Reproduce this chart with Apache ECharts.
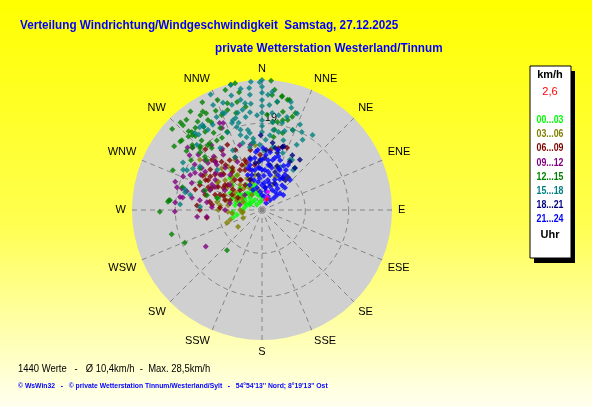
<!DOCTYPE html>
<html>
<head>
<meta charset="utf-8">
<title>Windrichtung/Windgeschwindigkeit</title>
<script src="https://cdn.jsdelivr.net/npm/echarts@6.0.0/dist/echarts.min.js"></script>
<style>
html, body { margin: 0; padding: 0; }
#chart { width: 592px; height: 407px; }
</style>
</head>
<body>
<div id="chart"></div>
<script>
// Punkte je Zeitraum als [km/h, Richtung in Grad]
const h00_03 = [[2.7,325],[3.7,315],[4.3,300],[4.8,320],[4.9,333],[5.5,307],[5.1,288],[3.4,345],[1.8,346],[1.6,315],
  [2.9,293],[3.8,280],[6.0,280],[7.9,298],[9.9,315],[9.4,324],[6.5,256],[4.2,270],[10.0,285],[6.4,329],[6.8,315],
  [2.2,0],[5.7,344],[11.0,323],[2.8,309],[3.6,290],[4.7,304],[5.9,297],[6.0,287],[4.4,323],[4.2,342],[3.1,352],
  [6.4,266],[5.6,259],[3.2,300],[5.0,315],[4.0,328],[6.2,305],[7.0,292],[5.2,336],[8.5,310]];
const h03_06 = [[15.4,318],[12.7,316],[9.0,313],[7.1,304],[10.0,280],[7.5,278],[4.8,270],[8.8,292],[4.5,293],[4.0,326],
  [7.7,335],[9.4,325],[7.8,349],[10.5,339],[9.1,302],[11.6,302],[14.7,302],[9.6,270],[6.6,264],[8.2,250],[6.4,235],
  [7.3,253],[4.5,247],[4.4,262],[9.2,276],[11.1,297],[17.5,309],[11.4,303],[7.5,267],[4.2,264],[5.9,292],[14.3,354],
  [10.0,19],[7.8,22],[5.9,22],[5.5,331],[7.3,319],[10.8,324],[10.4,309],[4.5,349],[12.2,291],[12.5,332],
  [8.5,308],[6.8,297],[9.8,318],[11.8,313],[6.2,320],[5.2,300],[8.0,285],[12.0,322],[6.5,340]];
const h06_09 = [[14.0,298],[12.7,321],[6.5,312],[10.8,288],[13.4,349],[12.2,262],[13.3,8],[14.7,22],[14.7,292],[15.3,287],
  [14.4,308],[12.0,310],[13.0,327],[8.9,318],[9.5,337],[8.4,285],[7.4,297],[7.1,338],[10.0,351],[15.5,315],[18.2,317],
  [10.0,331],[9.3,306],[10.9,298],[14.4,336],[15.8,326],[12.1,358],[14.0,15],[14.3,274],[6.6,326],[11.6,279],[14.7,316],
  [10.6,322],[10.8,336],[12.9,333],[16.2,332],[13.5,303],[11.5,313],[12.8,293],[9.8,300],[8.0,325],[11.0,342],
  [15.0,300],[13.8,320],[9.0,290],[7.8,305],[12.9,285],[11.0,276],[9.8,290],[9.8,304],[7.3,287],[5.9,297],[12.9,307],
  [13.5,299],[8.2,324],[11.3,325],[11.6,341],[9.2,273],[13.6,270],[12.0,294]];
const h09_12 = [[18.5,311],[16.8,299],[18.8,293],[20.0,288],[19.3,285],[16.5,291],[18.2,279],[19.1,269],[14.3,264],[14.7,237],
  [8.1,270],[7.2,282],[14.0,315],[16.1,305],[16.6,311],[14.8,325],[11.9,333],[20.5,312],[19.9,307],[18.2,285],[19.1,275],
  [12.2,263],[20.0,334],[21.2,334],[21.3,310],[20.9,336],[15.0,341],[14.5,350],[12.2,278],[11.0,273],[12.2,303],[9.2,298],
  [12.2,291],[13.8,279],[10.4,318],[5.0,311],[5.0,283],[9.2,343],[17.5,296],[15.5,300],[17.0,284],[13.5,288],
  [15.8,318],[18.0,322],[16.0,327],[13.0,309],[11.5,296],[17.8,304],[15.0,304],[15.7,311],[14.7,316],[11.7,311],
  [17.6,279],[15.6,280],[12.3,297],[12.3,319],[8.9,308]];
const h12_15 = [[28.3,346],[28.4,348],[26.3,349],[24.6,342],[24.3,347],[26.7,324],[23.2,341],[22.9,351],[28.4,4],[25.3,5],
  [25.2,10],[24.9,14],[23.9,8],[22.5,19],[20.2,13],[19.5,7],[25.2,329],[23.0,329],[22.6,337],[20.2,333],[23.3,311],
  [24.0,324],[22.3,325],[20.0,328],[18.1,331],[22.4,317],[20.2,319],[18.6,322],[26.2,317],[23.4,310],[22.8,315],[23.2,321],
  [24.5,330],[22.2,330],[18.2,327],[18.8,336],[20.5,312],[18.5,313],[16.3,312],[17.5,321],[18.1,286],[22.4,269],[20.7,275],
  [20.5,16],[18.8,21],[24.8,13],[25.4,10],[19.6,10],[17.8,9],[17.5,15],[16.2,9],[20.9,3],[20.5,255],[18.4,247],[11.7,221],
  [20.5,276],[14.9,294],[12.5,285],[10.2,285],[21.4,294],[23.6,317],[21.2,324],[18.5,320],[20.9,313],[13.2,289],
  [25.8,320],[27.0,331],[26.0,338],[24.0,335],[21.8,318],[19.5,316],[24.8,327],[27.5,343],[22.0,345],[21.0,308],
  [19.0,305],[23.8,306],[26.5,312],[26.5,6],[22.0,12],[21.5,18],[25.4,317],[23.0,318],[19.2,315],[17.1,313],
  [16.4,304],[20.3,276]];
const h15_18 = [[28.5,0],[28.2,355],[28.0,359],[27.0,0],[25.7,0],[24.1,0],[22.8,0],[21.3,0],[19.7,0],[18.4,0],[17.1,0],
  [26.9,354],[25.4,354],[23.4,354],[21.6,353],[24.6,349],[22.4,349],[20.7,350],[22.0,346],[20.7,342],[20.2,341],[27.7,336],
  [22.8,339],[22.7,334],[21.6,330],[21.2,326],[22.3,325],[21.6,320],[20.2,315],[18.2,345],[16.3,348],[15.0,353],[14.0,349],
  [25.3,3],[23.1,4],[21.4,6],[19.4,7],[17.7,8],[15.4,3],[21.1,10],[19.6,13],[21.1,15],[24.5,15],[23.3,16],[17.5,12],
  [16.0,17],[18.8,21],[19.2,27],[17.8,30],[16.2,28],[14.3,358],[19.8,34],[12.8,31],[10.2,23],[28.3,346],[25.4,335],
  [22.8,325],[22.4,319],[20.2,301],[18.6,298],[16.6,305],[17.3,283],[18.0,274],[13.2,312],[13.6,273],[12.6,29],[11.7,38],
  [17.8,350],[16.1,282],[18.6,336],[19.8,345],[23.7,351],[20.8,357],[26.0,345],[24.0,344],[23.0,338],[25.0,340],
  [27.0,350],[26.0,5],[24.0,8],[22.5,20],[20.5,24],[18.0,16],[16.5,6],[15.8,353],[13.0,2],[19.4,297],[17.5,285],
  [17.7,301],[22.7,323],[16.4,326],[14.6,334],[13.0,333],[21.0,344],[19.0,343],[17.1,344],[15.3,344],[17.1,351],
  [14.9,352],[14.0,10],[13.3,20],[11.1,38]];
const h18_21 = [[9.2,38],[8.3,38],[13.0,15],[14.5,18],[13.9,12],[14.8,19],[16.4,359],[11.7,38],[13.8,37],[13.7,29],
  [11.0,358],[10.4,352],[11.4,3],[10.0,10],[8.8,19],[7.7,354],[11.7,347],[13.2,4],[10.2,19],[14.9,9],[10.5,356],
  [6.5,25],[5.0,8],[7.2,340],[12.2,30],[14.5,18],[8.4,33]];
const h21_24 = [[11.0,0],[11.0,7],[11.8,14],[11.5,352],[10.2,345],[9.3,355],[8.8,4],[9.5,13],[9.6,24],[9.2,33],[8.0,344],
  [7.0,356],[6.7,11],[7.2,23],[7.0,39],[6.1,334],[5.0,347],[4.9,8],[4.9,27],[5.4,47],[3.3,0],[3.3,23],[3.7,45],[13.2,356],
  [12.8,8],[11.6,20],[11.4,30],[9.0,43],[5.5,0],[8.4,25],[8.9,350],[7.9,13],[8.8,0],[7.0,46],[4.6,45],[1.8,30],[2.8,39],
  [8.3,338],[10.0,8],[6.3,29],[9.0,346],[6.2,352],[7.5,3],[5.5,18],[8.3,32],[10.2,31],[12.1,4],[4.0,354],[6.8,345],
  [11.2,12],[5.7,55],[9.8,22],[10.8,26],[7.8,30],[6.0,5],[4.2,12],[8.5,9],[12.3,17],[9.2,357],[5.8,36],[3.0,10],
  [11.3,347],[12.8,354],[13.6,1],[13.6,15],[4.8,336],[9.7,342],[4.9,36],[6.1,15]];
const letzte = [[3.1,21],[2.3,17],[4.2,18]];
const aktuell = [[2.6,25]];

const zeitraeume = ['00...03', '03...06', '06...09', '09...12', '12...15', '15...18', '18...21', '21...24'];
const farben = ['#00ff00', '#808000', '#800000', '#800080', '#008000', '#008080', '#000080', '#0000ff'];
const punkte = [h00_03, h03_06, h06_09, h09_12, h12_15, h15_18, h18_21, h21_24];
const richtungen = ['N', 'NNE', 'NE', 'ENE', 'E', 'ESE', 'SE', 'SSE', 'S', 'SSW', 'SW', 'WSW', 'W', 'WNW', 'NW', 'NNW'];
const speedMax = 28.5;
const ringStep = 9.5;

const font = "'Liberation Sans', Arial, sans-serif";

let mychart = echarts.init(document.getElementById('chart'));

let series = punkte.map((d, i) => ({
    type: 'scatter',
    coordinateSystem: 'polar',
    name: zeitraeume[i],
    data: d,
    symbol: 'diamond',
    symbolSize: 6,
    itemStyle: { color: farben[i] },
    silent: true
}));
series.push({ type: 'scatter', coordinateSystem: 'polar', data: letzte, symbol: 'diamond', symbolSize: 5, itemStyle: { color: '#ff00ff' }, silent: true });
series.push({ type: 'scatter', coordinateSystem: 'polar', data: aktuell, symbol: 'diamond', symbolSize: 5, itemStyle: { color: '#ff0000' }, silent: true });

function txt(x, y, text, color, fnt, sx, align) {
    return {
        type: 'text', x: x, y: y, scaleX: sx || 1,
        style: { text: text, fill: color, font: fnt, textAlign: align || 'left', textVerticalAlign: 'middle' }
    };
}

let legendTexts = zeitraeume.map((t, i) => txt(550, 120 + i * 14.2, t, farben[i], 'bold 11px ' + font, 0.8, 'center'));

let option = {
    animation: false,
    backgroundColor: new echarts.graphic.LinearGradient(0, 0, 0, 1, [
        { offset: 0, color: '#ffff00' },
        { offset: 0.55, color: '#ffff50' },
        { offset: 1, color: '#fffff0' }
    ]),
    polar: { center: [262, 210], radius: 130 },
    angleAxis: {
        type: 'value', min: 0, max: 360, interval: 22.5,
        startAngle: 90, clockwise: true,
        axisLine: { show: false },
        axisTick: { show: false },
        axisLabel: {
            margin: 6, color: '#000', fontSize: 11, fontFamily: font,
            formatter: v => richtungen[Math.round(v / 22.5) % 16]
        },
        splitLine: { show: true, lineStyle: { color: '#858585', type: [5, 4], width: 1 } },
        splitArea: { show: false }
    },
    radiusAxis: {
        min: 0, max: speedMax, interval: ringStep,
        axisLine: { show: false },
        axisTick: { show: false },
        axisLabel: {
            color: '#000', fontSize: 11, fontFamily: font, margin: -15, verticalAlign: 'bottom',
            formatter: v => (v === 19 ? '19' : '')
        },
        splitLine: { show: true, lineStyle: { color: ['#858585', '#858585', '#858585', 'rgba(0,0,0,0)'], type: [5, 4], width: 1 } }
    },
    series: series,
    graphic: [
        { type: 'circle', z: -100, shape: { cx: 262, cy: 210, r: 130 }, style: { fill: '#d0d0d0' } },
        txt(20, 25, 'Verteilung Windrichtung/Windgeschwindigkeit  Samstag, 27.12.2025', '#0000ff', 'bold 13px ' + font, 0.9),
        txt(215, 48, 'private Wetterstation Westerland/Tinnum', '#0000ff', 'bold 13px ' + font, 0.9),
        { type: 'rect', shape: { x: 534, y: 71, width: 41, height: 192 }, style: { fill: '#000' } },
        { type: 'rect', shape: { x: 530, y: 66, width: 41, height: 192 }, style: { fill: '#fff', stroke: '#000', lineWidth: 1 } },
        txt(550, 75, 'km/h', '#000', 'bold 11px ' + font, 1, 'center'),
        txt(550, 92, '2,6', '#ff0000', '11px ' + font, 1, 'center'),
        ...legendTexts,
        txt(550, 235, 'Uhr', '#000', 'bold 11px ' + font, 1, 'center'),
        txt(18, 369, '1440 Werte   -   Ø 10,4km/h  -  Max. 28,5km/h', '#000', '11px ' + font, 0.86),
        txt(18, 386, "© WsWin32   -   © private Wetterstation Tinnum/Westerland/Sylt   -   54°54'13'' Nord; 8°19'13'' Ost", '#0000ff', 'bold 8px ' + font, 0.85)
    ]
};

mychart.setOption(option);
</script>
</body>
</html>
